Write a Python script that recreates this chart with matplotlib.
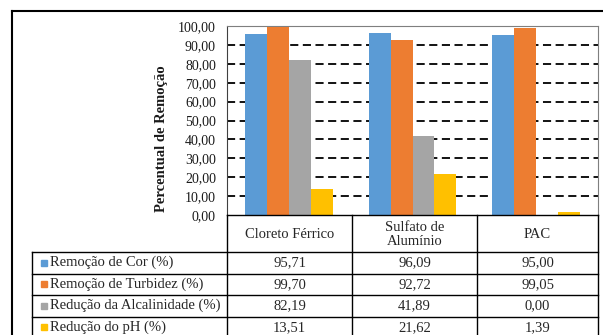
import matplotlib
matplotlib.use("Agg")
import matplotlib.pyplot as plt
from matplotlib.lines import Line2D
from matplotlib.patches import Rectangle
from matplotlib.ticker import FuncFormatter
import numpy as np

categories = ["Cloreto Férrico", "Sulfato de\nAlumínio", "PAC"]
series_names = ["Remoção de Cor (%)", "Remoção de Turbidez (%)",
                "Redução da Alcalinidade (%)", "Redução do pH (%)"]
cor = [95.71, 96.09, 95.00]
turbidez = [99.70, 92.72, 99.05]
alcalinidade = [82.19, 41.89, 0.00]
ph = [13.51, 21.62, 1.39]
series_values = [cor, turbidez, alcalinidade, ph]
colors = ["#5B9BD5", "#ED7D31", "#A5A5A5", "#FFC000"]
y_ticks = [0, 10, 20, 30, 40, 50, 60, 70, 80, 90, 100]

W, H = 603, 335
plt.rcParams["font.family"] = ["Liberation Serif", "DejaVu Serif"]

fig = plt.figure(figsize=(W / 100, H / 100), dpi=100)


def fx(x):
    return x / W


def fy(y):
    return 1 - y / H


# plot area geometry (pixels)
left, right, top, bottom = 227, 598, 26, 215
ax = fig.add_axes([fx(left), fy(bottom), fx(right) - fx(left), fy(top) - fy(bottom)])

n = len(categories)
x = np.arange(n)
bw = 0.177
for i, vals in enumerate(series_values):
    ax.bar(x + (i - 1.5) * bw, vals, width=bw, color=colors[i], zorder=3)

ax.set_xlim(-0.5, n - 0.5)
ax.set_ylim(0, 100)
ax.set_yticks(y_ticks)
ax.yaxis.set_major_formatter(FuncFormatter(lambda v, p: f"{v:.2f}".replace(".", ",")))
ax.tick_params(axis="y", length=0, pad=8, labelsize=10, labelcolor="#1a1a1a")
ax.set_xticks([])
for yv in y_ticks[1:-1]:
    ax.axhline(yv, color="black", lw=1.3, ls=(0, (4.5, 2.5)), zorder=1)
for s in ["top", "right"]:
    ax.spines[s].set_color("#7f7f7f")
    ax.spines[s].set_linewidth(0.8)
ax.spines["left"].set_color("#404040")
ax.spines["left"].set_linewidth(0.8)
ax.spines["bottom"].set_visible(False)

ax.set_ylabel("Percentual de Remoção", fontsize=10.5, fontweight="bold", color="#1a1a1a")
ax.yaxis.set_label_coords(-0.158, 0.405)

# outer frame
fig.add_artist(Line2D([fx(12), fx(12)], [fy(11), fy(340)], color="black", lw=1.5,
                      transform=fig.transFigure))
fig.add_artist(Line2D([fx(12), fx(610)], [fy(11), fy(11)], color="black", lw=1.5,
                      transform=fig.transFigure))

# data table below the axes
col_x = [227, 352, 477, 598]
label_left = 32
header_bottom = 252
row_h = 21.5
row_y = [header_bottom + k * row_h for k in range(len(series_names) + 1)]


def hline(x0, x1, y):
    fig.add_artist(Line2D([fx(x0), fx(x1)], [fy(y), fy(y)], color="black", lw=1.0,
                          transform=fig.transFigure))


def vline(x, y0, y1):
    fig.add_artist(Line2D([fx(x), fx(x)], [fy(y0), fy(y1)], color="black", lw=1.0,
                          transform=fig.transFigure))


hline(col_x[0], col_x[-1], bottom)
for yv in row_y:
    hline(label_left, col_x[-1], yv)
for xv in col_x:
    vline(xv, bottom, row_y[-1])
vline(label_left, header_bottom, row_y[-1])

for j, cat in enumerate(categories):
    cx = (col_x[j] + col_x[j + 1]) / 2
    fig.text(fx(cx), fy((bottom + header_bottom) / 2 + 1), cat, ha="center", va="center",
             fontsize=10.5, linespacing=1.1, color="#262626")

for i, name in enumerate(series_names):
    cy = (row_y[i] + row_y[i + 1]) / 2
    fig.add_artist(Rectangle((fx(41), fy(cy + 3)), fx(6), 6 / H, color=colors[i],
                             transform=fig.transFigure))
    fig.text(fx(50), fy(cy), name, ha="left", va="center", fontsize=10.5, color="#262626")
    for j in range(n):
        cx = (col_x[j] + col_x[j + 1]) / 2
        fig.text(fx(cx), fy(cy), f"{series_values[i][j]:.2f}".replace(".", ","),
                 ha="center", va="center", fontsize=10.5, color="#262626")

fig.savefig("out.png", dpi=100)
